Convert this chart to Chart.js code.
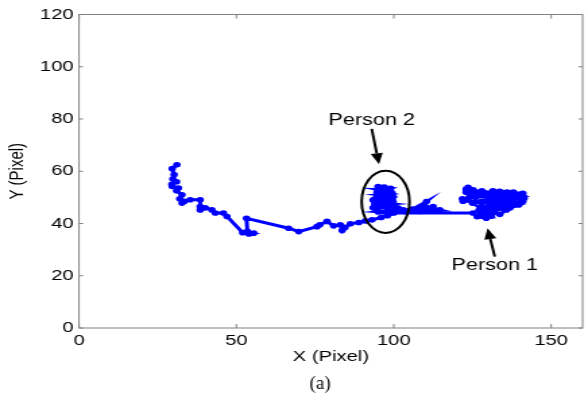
<!DOCTYPE html>
<html>
<head>
<meta charset="utf-8">
<script src="https://cdn.jsdelivr.net/npm/chart.js@4/dist/chart.umd.min.js"></script>
<style>
  html, body { margin: 0; padding: 0; background: #fff; overflow: hidden; }
  /* the source figure is stretched sideways, so draw narrow and scale */
  #chart { display: block; transform: scaleX(1.3486); transform-origin: 0 0; }
</style>
</head>
<body>
<canvas id="chart" width="436" height="394"></canvas>
<script>
// track from the left side up to the crossing
var trackX = [31.1, 29.6, 30.2, 29.8, 31.0, 29.5, 29.6, 31.6, 31.0, 32.7, 32.0, 32.7, 33.5, 35.3, 38.5, 38.5, 38.5, 40.1, 42.2, 43.3,
              45.9, 47.0, 52.0, 54.0, 55.5, 53.5, 53.2, 66.6, 69.8, 75.6, 76.5, 78.8, 80.9, 83.0, 83.6, 84.5, 86.2, 88.9, 91.0, 93.1];
var trackY = [62.5, 61.0, 58.7, 57.0, 56.0, 55.0, 54.2, 53.6, 52.5, 51.0, 49.5, 47.8, 48.5, 49.1, 49.1, 46.5, 45.2, 46.0, 45.2, 44.0,
              44.0, 42.7, 36.5, 36.0, 36.3, 37.0, 42.0, 38.2, 36.9, 38.8, 39.5, 40.8, 39.1, 39.5, 37.3, 38.5, 39.9, 40.4, 41.0, 41.4];

// person 2 blob
var person2X = [96.0, 98.0, 100.0, 95.0, 99.0, 101.4, 103.0, 99.5, 94.5, 93.4, 93.4, 95.0, 99.5, 95.0, 94.5, 99.5, 98.0, 95.0, 99.5,
                97.0, 95.0, 98.7, 97.0, 95.0, 94.7, 96.0, 99.7, 97.0, 94.5, 99.8, 94.3, 99.8, 95.2, 99.0, 96.2, 98.5, 96.0, 98.0,
                100.8, 104.0, 108.0, 110.4, 106.0, 112.5, 105.0, 114.6, 110.0, 99.0];
var person2Y = [42.3, 43.0, 44.0, 44.5, 45.0, 45.9, 45.2, 46.0, 46.0, 46.0, 49.0, 48.0, 47.5, 47.0, 50.0, 49.0, 50.5, 51.0, 51.5,
                52.5, 53.0, 52.9, 54.0, 54.1, 52.0, 50.0, 48.5, 46.5, 45.5, 46.8, 48.5, 50.2, 52.0, 53.5, 53.8, 48.0, 49.0, 45.0,
                45.2, 44.5, 46.0, 48.4, 45.5, 46.5, 45.0, 45.2, 46.5, 44.0];

// person 1 blob
var person1X = [125.2, 126.5, 129.4, 131.0, 127.0, 133.7, 135.8, 128.0, 134.0, 137.0, 139.7, 131.0, 136.0, 141.0, 141.4, 133.0,
                128.0, 122.0, 121.8, 126.0, 131.0, 136.0, 140.5, 141.0, 136.0, 131.5, 129.0, 125.2, 123.6, 123.0, 124.5, 127.0,
                133.7, 138.0, 140.0, 135.0, 130.0, 128.0, 125.0, 127.5, 130.0, 128.5, 132.0, 134.0, 138.0,
                133.0, 136.5, 140.5, 139.0, 134.0, 129.0, 124.0, 123.0, 125.0, 128.0, 132.0, 137.0, 141.2, 138.0, 133.0, 130.0,
                133.0, 129.5, 131.0, 127.5];
var person1Y = [44.0, 42.6, 42.0, 43.5, 45.0, 43.5, 45.2, 46.5, 46.5, 46.0, 47.1, 47.5, 48.0, 48.5, 49.7, 49.5,
                48.5, 48.5, 49.5, 50.0, 50.5, 50.5, 51.0, 51.6, 52.0, 52.5, 51.5, 52.9, 53.9, 52.0, 51.0, 51.5,
                52.3, 52.0, 50.0, 49.0, 49.0, 48.0, 47.8, 46.0, 45.0, 43.5, 44.5, 46.0, 47.0,
                45.8, 47.5, 48.5, 50.5, 51.2, 50.5, 50.0, 53.0, 52.0, 52.5, 51.5, 51.2, 50.3, 49.2, 48.5, 48.0,
                46.8, 44.5, 42.8, 43.5];

var xTicks = { min: 0, max: 160, step: 50 };
var yTicks = { min: 0, max: 120, step: 20 };

var allX = trackX.concat(person2X, person1X);
var allY = trackY.concat(person2Y, person1Y);
var points = allX.map(function (v, i) { return { x: v, y: allY[i] }; });

var font = '"Liberation Sans", Arial, sans-serif';

function arrow(ctx, x1, y1, x2, y2) {
  var ang = Math.atan2(y2 - y1, x2 - x1), len = 11, w = 4.5;
  var bx = x2 - len * Math.cos(ang), by = y2 - len * Math.sin(ang);
  ctx.beginPath();
  ctx.moveTo(x1, y1);
  ctx.lineTo(bx, by);
  ctx.stroke();
  ctx.beginPath();
  ctx.moveTo(x2, y2);
  ctx.lineTo(bx + w * Math.sin(ang), by - w * Math.cos(ang));
  ctx.lineTo(bx - w * Math.sin(ang), by + w * Math.cos(ang));
  ctx.closePath();
  ctx.fill();
}

// box, inward ticks, labels and caption
var decor = {
  id: 'decor',
  afterDraw: function (chart) {
    var ctx = chart.ctx, a = chart.chartArea, sx = chart.scales.x, sy = chart.scales.y;
    ctx.save();
    ctx.strokeStyle = '#808080';
    ctx.lineWidth = 1;
    ctx.strokeRect(a.left, a.top, a.right - a.left, a.bottom - a.top);
    ctx.beginPath();
    sx.ticks.forEach(function (t) {
      var px = sx.getPixelForValue(t.value);
      ctx.moveTo(px, a.bottom); ctx.lineTo(px, a.bottom - 4);
      ctx.moveTo(px, a.top); ctx.lineTo(px, a.top + 4);
    });
    sy.ticks.forEach(function (t) {
      var py = sy.getPixelForValue(t.value);
      ctx.moveTo(a.left, py); ctx.lineTo(a.left + 3, py);
      ctx.moveTo(a.right, py); ctx.lineTo(a.right - 3, py);
    });
    ctx.stroke();

    ctx.strokeStyle = '#000';
    ctx.fillStyle = '#000';
    ctx.lineWidth = 2;
    // ellipse round person 2
    var cx = sx.getPixelForValue(97.4), cy = sy.getPixelForValue(48.3);
    var rx = sx.getPixelForValue(97.4 + 7.6) - cx, ry = cy - sy.getPixelForValue(48.3 + 11.9);
    ctx.beginPath();
    ctx.ellipse(cx, cy, rx, ry, 0, 0, Math.PI * 2);
    ctx.stroke();

    arrow(ctx, sx.getPixelForValue(93.0), sy.getPixelForValue(76.2), sx.getPixelForValue(95.3), sy.getPixelForValue(62.7));
    arrow(ctx, sx.getPixelForValue(132.1), sy.getPixelForValue(27.3), sx.getPixelForValue(129.8), sy.getPixelForValue(38.2));

    ctx.font = '16px ' + font;
    ctx.textAlign = 'center';
    ctx.textBaseline = 'middle';
    ctx.fillText('Person 2', sx.getPixelForValue(93.0), sy.getPixelForValue(79.5));
    ctx.fillText('Person 1', sx.getPixelForValue(132.1), sy.getPixelForValue(23.8));

    // caption is not stretched in the source
    ctx.translate((a.left + a.right) / 2 - 8, 384);
    ctx.scale(1 / 1.3486, 1);
    ctx.font = '19px "Liberation Serif", "Times New Roman", serif';
    ctx.fillText('(a)', 0, 0);
    ctx.restore();
  }
};

new Chart(document.getElementById('chart'), {
  type: 'scatter',
  data: {
    datasets: [{
      data: points,
      showLine: true,
      borderColor: '#0000ff',
      backgroundColor: '#0000ff',
      borderWidth: 3,
      pointRadius: 2.8,
      pointBorderWidth: 0,
      tension: 0
    }]
  },
  options: {
    responsive: false,
    animation: false,
    layout: { padding: { left: 0, right: 3.7, top: 14.5, bottom: 28 } },
    plugins: { legend: { display: false }, tooltip: { enabled: false } },
    scales: {
      x: {
        type: 'linear',
        min: xTicks.min, max: xTicks.max,
        ticks: { stepSize: xTicks.step, includeBounds: false, padding: 4, maxRotation: 0, color: '#000', font: { family: font, size: 15 } },
        grid: { display: false, drawTicks: false },
        border: { display: false },
        title: { display: true, text: 'X (Pixel)', color: '#000', font: { family: font, size: 15 }, padding: 0 },
        afterFit: function (s) { s.height = 38; }
      },
      y: {
        min: yTicks.min, max: yTicks.max,
        ticks: { stepSize: yTicks.step, padding: 4, color: '#000', font: { family: font, size: 15 } },
        grid: { display: false, drawTicks: false },
        border: { display: false },
        title: { display: true, text: 'Y (Pixel)', color: '#000', font: { family: font, size: 15 }, padding: { top: 4, bottom: 0 } },
        afterFit: function (s) { s.width = 58.6; }
      }
    }
  },
  plugins: [decor]
});
</script>
</body>
</html>
